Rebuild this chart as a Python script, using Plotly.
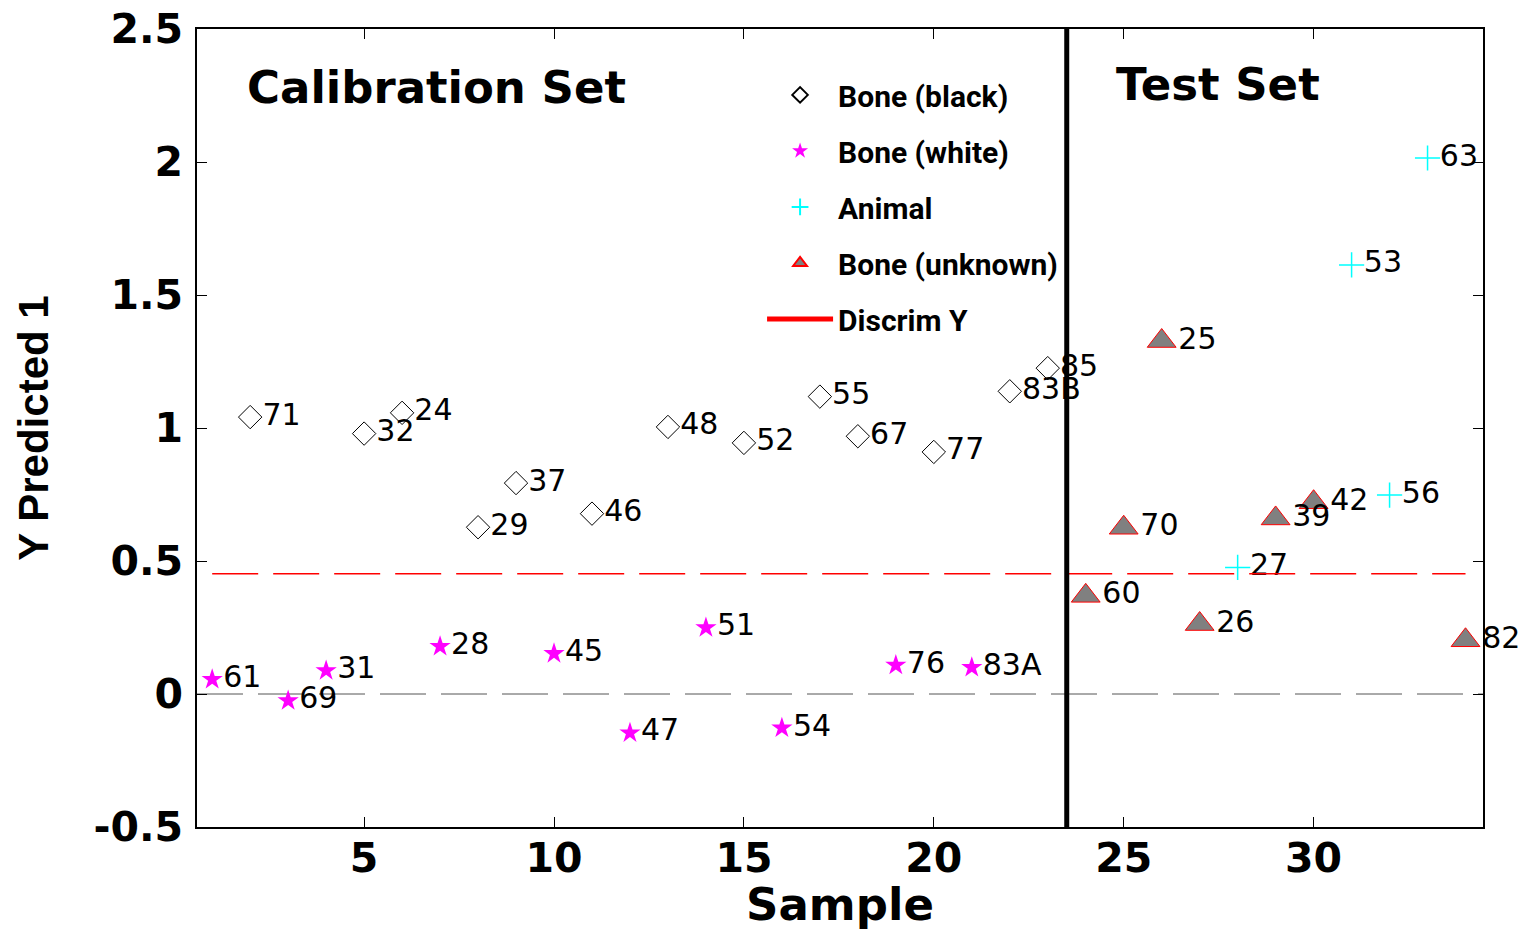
import plotly.graph_objects as go

# ---- data ----
black_x = [2, 5, 6, 8, 9, 11, 13, 15, 17, 18, 20, 22, 23]
black_y = [1.041, 0.979, 1.057, 0.627, 0.793, 0.678, 1.004, 0.944, 1.118, 0.969, 0.910, 1.138, 1.225]
black_lbl = ["71", "32", "24", "29", "37", "46", "48", "52", "55", "67", "77", "83B", "85"]

white_x = [1, 3, 4, 7, 10, 12, 14, 16, 19, 21]
white_y = [0.055, -0.025, 0.088, 0.179, 0.152, -0.146, 0.249, -0.128, 0.108, 0.100]
white_lbl = ["61", "69", "31", "28", "45", "47", "51", "54", "76", "83A"]

animal_x = [28, 31, 32, 33]
animal_y = [0.476, 1.613, 0.748, 2.015]
animal_lbl = ["27", "53", "56", "63"]

unk_x = [24, 25, 26, 27, 29, 30, 34]
unk_y = [0.369, 0.625, 1.327, 0.263, 0.660, 0.721, 0.202]
unk_lbl = ["60", "70", "25", "26", "39", "42", "82"]

discrim_x = [1, 34]
discrim_val = 0.452
split_x = 23.5

x_ticks = [5, 10, 15, 20, 25, 30]
y_ticks = [-0.5, 0, 0.5, 1, 1.5, 2, 2.5]
y_ticktext = ["-0.5", "0", "0.5", "1", "1.5", "2", "2.5"]

# ---- styles ----
LBL_FONT = dict(family="DejaVu Sans", size=30, color="black")
TICK_FONT = dict(family="DejaVu Sans", size=41, color="black", weight="bold")
LEG_FONT = dict(family="Roboto, Liberation Sans, sans-serif", size=30, color="black", weight="bold")

fig = go.Figure()

fig.add_trace(go.Scatter(
    x=black_x, y=black_y, text=black_lbl, mode="markers+text", name="Bone (black)",
    legendgroup="a", textposition="middle right", textfont=LBL_FONT, cliponaxis=False,
    marker=dict(symbol="diamond-open", size=18, color="black", line=dict(width=1, color="#222")),
))
fig.add_trace(go.Scatter(
    x=white_x, y=white_y, text=white_lbl, mode="markers+text", name="Bone (white)",
    legendgroup="b", textposition="middle right", textfont=LBL_FONT, cliponaxis=False,
    marker=dict(symbol="star", size=16, color="#ff00ff", line=dict(width=0)),
))
fig.add_trace(go.Scatter(
    x=animal_x, y=animal_y, text=animal_lbl, mode="markers+text", name="Animal",
    legendgroup="c", textposition="middle right", textfont=LBL_FONT, cliponaxis=False,
    marker=dict(symbol="cross-thin", size=18, color="#00ffff", line=dict(width=1.5, color="#00ffff")),
))
fig.add_trace(go.Scatter(
    x=unk_x, y=unk_y, text=unk_lbl, mode="markers+text", name="Bone (unknown)",
    legendgroup="d", textposition="middle right", textfont=LBL_FONT, cliponaxis=False,
    marker=dict(symbol="triangle-up", size=25, color="#808080", line=dict(width=1, color="#ff0000")),
))
fig.add_trace(go.Scatter(
    x=discrim_x, y=[discrim_val] * len(discrim_x), mode="lines", name="Discrim Y",
    legendgroup="e", showlegend=False, line=dict(color="#ff0000", width=1.4, dash="46px,15px"),
))
# legend entry for the discriminant line (solid sample line, as in the reference legend)
fig.add_trace(go.Scatter(
    x=[None], y=[None], mode="lines", name="Discrim Y", legendgroup="e",
    line=dict(color="#ff0000", width=1.2),
))

# zero reference line and set divider
fig.add_shape(type="line", xref="paper", x0=0, x1=1, yref="y", y0=0, y1=0,
              line=dict(color="#555555", width=1, dash="46px,15px"), layer="below")
fig.add_shape(type="line", xref="x", x0=split_x, x1=split_x, yref="paper", y0=0, y1=1,
              line=dict(color="black", width=5))

fig.add_annotation(text="Calibration Set", x=1.86, y=2.28, xref="x", yref="y",
                   xanchor="left", yanchor="middle", showarrow=False,
                   font=dict(family="DejaVu Sans", size=45, color="black", weight="bold"))
fig.add_annotation(text="Test Set", x=24.74, y=2.29, xref="x", yref="y",
                   xanchor="left", yanchor="middle", showarrow=False,
                   font=dict(family="DejaVu Sans", size=45, color="black", weight="bold"))

axis_common = dict(showgrid=False, zeroline=False, showline=True, linecolor="black", linewidth=1.5,
                   mirror="ticks", ticks="inside", ticklen=10, tickwidth=1, tickcolor="black",
                   tickfont=TICK_FONT)

fig.update_xaxes(range=[0.6, 34.46], tickvals=x_ticks, ticktext=[str(v) for v in x_ticks],
                 ticklabelstandoff=-6,
                 title=dict(text="Sample", font=dict(family="DejaVu Sans", size=45, color="black",
                                                      weight="bold"), standoff=8),
                 **axis_common)
fig.update_yaxes(range=[-0.5, 2.5], tickvals=y_ticks, ticktext=y_ticktext, ticklabelstandoff=4,
                 title=dict(text="Y Predicted 1", font=dict(family="Liberation Sans", size=42,
                                                             color="black", weight="bold"), standoff=32),
                 **axis_common)

fig.update_layout(
    width=1521, height=931,
    margin=dict(l=197, r=38, t=29, b=104, autoexpand=False),
    paper_bgcolor="white", plot_bgcolor="white",
    showlegend=True,
    legend=dict(x=0.4394, y=0.950, xanchor="left", yanchor="top", bgcolor="rgba(0,0,0,0)",
                font=LEG_FONT, itemsizing="constant", tracegroupgap=14, borderwidth=0,
                itemwidth=66),
)

fig.write_html("out.html")
